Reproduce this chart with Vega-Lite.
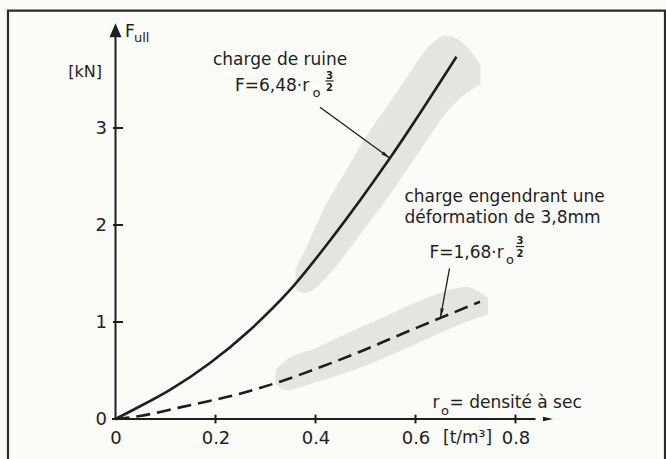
{
  "$schema": "https://vega.github.io/schema/vega-lite/v6.json",
  "width": 437.5,
  "height": 396,
  "autosize": {"type": "none"},
  "padding": {"left": 115.5, "top": 23, "right": 113, "bottom": 40},
  "background": "#fbfbf7",
  "config": {"view": {"stroke": null}, "font": "DejaVu Sans"},
  "datasets": {
    "frame": [{"x": -0.215, "x2": 1.099, "y": -0.6, "y2": 4.21}],
    "bandS": [
      {"x": 0.36, "y": 1.33, "y2": 1.55},
      {"x": 0.38, "y": 1.3, "y2": 1.75},
      {"x": 0.42, "y": 1.45, "y2": 2.2},
      {"x": 0.46, "y": 1.7, "y2": 2.55},
      {"x": 0.5, "y": 1.98, "y2": 2.9},
      {"x": 0.54, "y": 2.25, "y2": 3.2},
      {"x": 0.58, "y": 2.55, "y2": 3.5},
      {"x": 0.62, "y": 2.85, "y2": 3.8},
      {"x": 0.66, "y": 3.15, "y2": 3.95},
      {"x": 0.7, "y": 3.35, "y2": 3.85},
      {"x": 0.73, "y": 3.45, "y2": 3.65}
    ],
    "bandD": [
      {"x": 0.32, "y": 0.36, "y2": 0.5},
      {"x": 0.34, "y": 0.3, "y2": 0.6},
      {"x": 0.4, "y": 0.38, "y2": 0.73},
      {"x": 0.45, "y": 0.46, "y2": 0.85},
      {"x": 0.5, "y": 0.55, "y2": 0.97},
      {"x": 0.55, "y": 0.66, "y2": 1.08},
      {"x": 0.6, "y": 0.77, "y2": 1.2},
      {"x": 0.65, "y": 0.89, "y2": 1.3},
      {"x": 0.7, "y": 1.0, "y2": 1.36},
      {"x": 0.745, "y": 1.08, "y2": 1.25}
    ],
    "solid": [
      {"x": 0, "y": 0},
      {"x": 0.035, "y": 0.093},
      {"x": 0.109, "y": 0.3},
      {"x": 0.189, "y": 0.577},
      {"x": 0.269, "y": 0.918},
      {"x": 0.349, "y": 1.33},
      {"x": 0.435, "y": 1.88},
      {"x": 0.549, "y": 2.69},
      {"x": 0.682, "y": 3.735}
    ],
    "dashed": [
      {"x": 0, "y": 0},
      {"x": 0.049, "y": 0.031},
      {"x": 0.129, "y": 0.12},
      {"x": 0.249, "y": 0.26},
      {"x": 0.329, "y": 0.385},
      {"x": 0.409, "y": 0.533},
      {"x": 0.489, "y": 0.694},
      {"x": 0.576, "y": 0.884},
      {"x": 0.649, "y": 1.04},
      {"x": 0.729, "y": 1.209}
    ],
    "axlines": [
      {"x": 0, "y": 0, "x2": 0, "y2": 3.96},
      {"x": -0.007, "y": 0, "x2": 0.84, "y2": 0}
    ],
    "ticks": [
      {"x": 0.2, "y": -0.045, "x2": 0.2, "y2": 0.045},
      {"x": 0.4, "y": -0.045, "x2": 0.4, "y2": 0.045},
      {"x": 0.6, "y": -0.045, "x2": 0.6, "y2": 0.045},
      {"x": 0.8, "y": -0.045, "x2": 0.8, "y2": 0.045},
      {"x": -0.005, "y": 1, "x2": 0.015, "y2": 1},
      {"x": -0.005, "y": 2, "x2": 0.015, "y2": 2},
      {"x": -0.005, "y": 3, "x2": 0.015, "y2": 3}
    ],
    "pointers": [
      {"x": 0.409, "y": 3.213, "x2": 0.549, "y2": 2.688},
      {"x": 0.668, "y": 1.554, "x2": 0.65, "y2": 1.048}
    ],
    "labels": [
      {"t": "charge de ruine", "x": 0.195, "y": 3.652},
      {"t": "F=6,48·r", "x": 0.239, "y": 3.381},
      {"t": "charge engendrant une", "x": 0.578, "y": 2.237},
      {"t": "déformation de 3,8mm", "x": 0.578, "y": 2.021},
      {"t": "F=1,68·r", "x": 0.628, "y": 1.66},
      {"t": "r", "x": 0.634, "y": 0.113},
      {"t": "= densité à sec", "x": 0.668, "y": 0.113},
      {"t": "[t/m³]", "x": 0.655, "y": -0.247},
      {"t": "F", "x": 0.019, "y": 3.938}
    ],
    "subs": [
      {"t": "o", "x": 0.394, "y": 3.32},
      {"t": "o", "x": 0.781, "y": 1.598},
      {"t": "o", "x": 0.651, "y": 0.045},
      {"t": "ull", "x": 0.037, "y": 3.887}
    ],
    "fracs": [
      {"t": "3", "x": 0.428, "y": 3.505},
      {"t": "2", "x": 0.428, "y": 3.381},
      {"t": "3", "x": 0.809, "y": 1.804},
      {"t": "2", "x": 0.809, "y": 1.67}
    ],
    "bars": [
      {"x": 0.42, "x2": 0.436, "y": 3.485},
      {"x": 0.801, "x2": 0.817, "y": 1.778}
    ],
    "unity": [{"t": "[kN]", "x": -0.027, "y": 3.526}]
  },
  "encoding": {
    "x": {"field": "x", "type": "quantitative", "title": null,
      "scale": {"domain": [0, 0.875], "nice": false, "zero": false},
      "axis": {"values": [0, 0.2, 0.4, 0.6, 0.8], "format": ".1~f", "domain": false, "ticks": false, "grid": false, "labelFontSize": 18, "labelColor": "#222", "labelPadding": 10, "labelFlush": false, "labelOverlap": false, "title": null}},
    "y": {"field": "y", "type": "quantitative", "title": null,
      "scale": {"domain": [0, 4.0825], "nice": false, "zero": false},
      "axis": {"values": [0, 1, 2, 3], "domain": false, "ticks": false, "grid": false, "labelFontSize": 18, "labelColor": "#222", "labelPadding": 9, "labelFlush": false, "labelOverlap": false, "title": null}}
  },
  "layer": [
    {
      "data": {"name": "frame"},
      "mark": {"type": "rect", "fill": "transparent", "stroke": "#2a2a2a", "strokeWidth": 2.2},
      "encoding": {"x2": {"field": "x2"}, "y2": {"field": "y2"}}
    },
    {
      "data": {"name": "bandS"},
      "mark": {"type": "area", "color": "#e5e5df", "opacity": 1, "interpolate": "monotone"},
      "encoding": {"y2": {"field": "y2"}}
    },
    {
      "data": {"name": "bandD"},
      "mark": {"type": "area", "color": "#e5e5df", "opacity": 1, "interpolate": "monotone"},
      "encoding": {"y2": {"field": "y2"}}
    },
    {
      "data": {"name": "solid"},
      "mark": {"type": "line", "color": "#1e1e1e", "strokeWidth": 2.6, "interpolate": "monotone"},
      "encoding": {}
    },
    {
      "data": {"name": "dashed"},
      "mark": {"type": "line", "color": "#1e1e1e", "strokeWidth": 2.6, "strokeDash": [14, 7], "interpolate": "monotone"},
      "encoding": {}
    },
    {
      "data": {"name": "axlines"},
      "mark": {"type": "rule", "color": "#1e1e1e", "strokeWidth": 2},
      "encoding": {"x2": {"field": "x2"}, "y2": {"field": "y2"}}
    },
    {
      "data": {"name": "ticks"},
      "mark": {"type": "rule", "color": "#1e1e1e", "strokeWidth": 2},
      "encoding": {"x2": {"field": "x2"}, "y2": {"field": "y2"}}
    },
    {
      "data": {"name": "pointers"},
      "mark": {"type": "rule", "color": "#1e1e1e", "strokeWidth": 1.3},
      "encoding": {"x2": {"field": "x2"}, "y2": {"field": "y2"}}
    },
    {
      "data": {"values": [{"x": 0.549, "y": 2.688}]},
      "mark": {"type": "point", "shape": "M0,0L0.4,2L-0.4,2Z", "size": 81, "angle": 126, "filled": true, "color": "#1e1e1e", "opacity": 1}
    },
    {
      "data": {"values": [{"x": 0.65, "y": 1.048}]},
      "mark": {"type": "point", "shape": "M0,0L0.4,2L-0.4,2Z", "size": 81, "angle": 191, "filled": true, "color": "#1e1e1e", "opacity": 1}
    },
    {
      "data": {"values": [{"x": 0, "y": 4.08}]},
      "mark": {"type": "point", "shape": "M0,0L0.43,1L-0.43,1Z", "size": 784, "angle": 0, "filled": true, "color": "#1e1e1e", "opacity": 1}
    },
    {
      "data": {"values": [{"x": 0.875, "y": 0}]},
      "mark": {"type": "point", "shape": "M0,0L0.45,2L-0.45,2Z", "size": 100, "angle": 90, "filled": true, "color": "#1e1e1e", "opacity": 1}
    },
    {
      "data": {"name": "labels"},
      "mark": {"type": "text", "align": "left", "baseline": "alphabetic", "fontSize": 17, "color": "#1e1e1e"},
      "encoding": {"text": {"field": "t"}}
    },
    {
      "data": {"name": "subs"},
      "mark": {"type": "text", "align": "left", "baseline": "alphabetic", "fontSize": 13, "color": "#1e1e1e"},
      "encoding": {"text": {"field": "t"}}
    },
    {
      "data": {"name": "fracs"},
      "mark": {"type": "text", "align": "center", "baseline": "alphabetic", "fontSize": 10, "fontWeight": "bold", "color": "#1e1e1e"},
      "encoding": {"text": {"field": "t"}}
    },
    {
      "data": {"name": "bars"},
      "mark": {"type": "rule", "color": "#1e1e1e", "strokeWidth": 1.2},
      "encoding": {"x2": {"field": "x2"}}
    },
    {
      "data": {"name": "unity"},
      "mark": {"type": "text", "align": "right", "baseline": "alphabetic", "fontSize": 16, "color": "#1e1e1e"},
      "encoding": {"text": {"field": "t"}}
    }
  ]
}
